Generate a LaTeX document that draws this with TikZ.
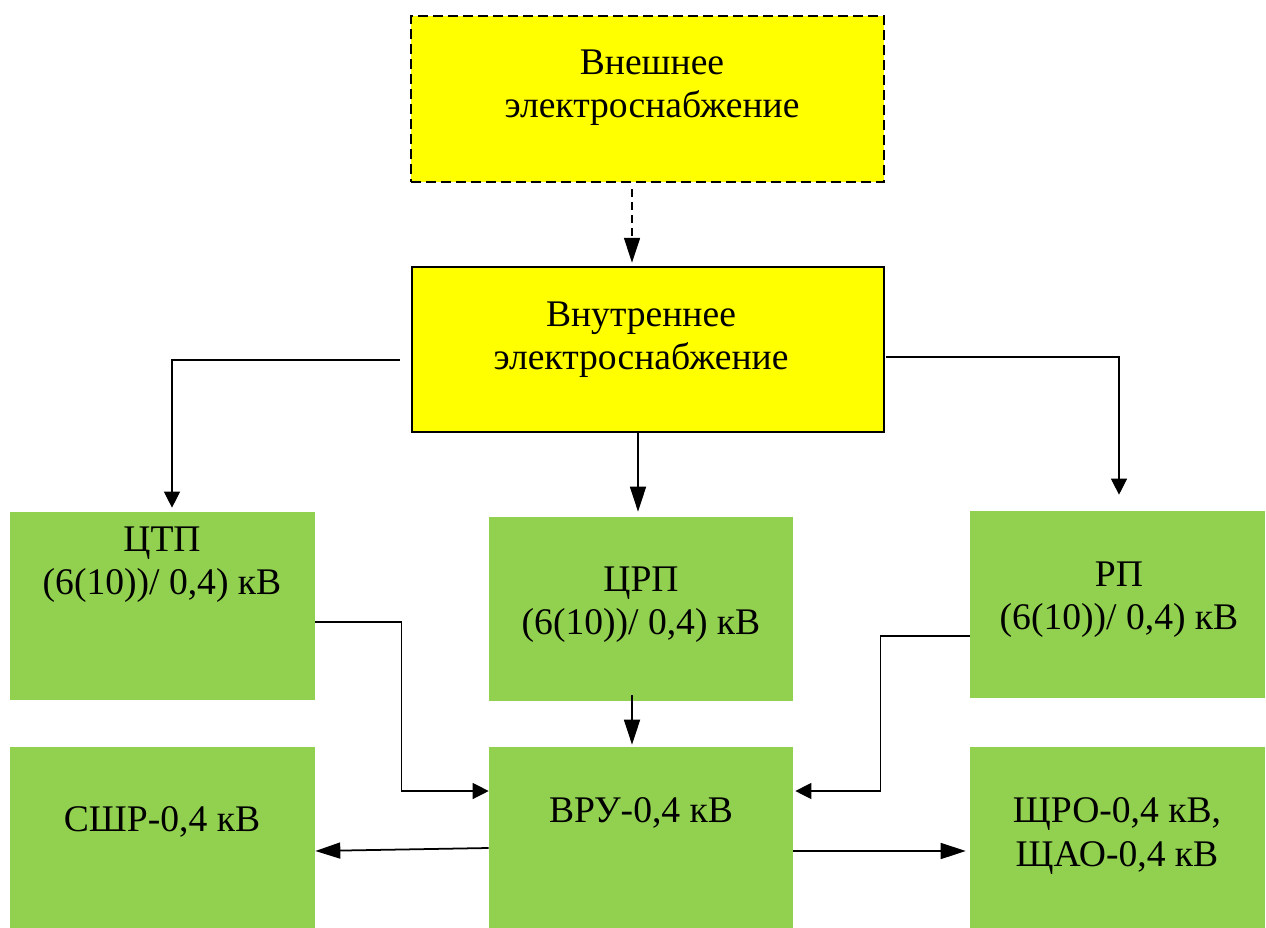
\documentclass[tikz,border=0pt]{standalone}
\usepackage{fontspec}
\setmainfont{Liberation Serif}
\usetikzlibrary{arrows.meta}

\definecolor{boxyellow}{RGB}{255,255,0}
\definecolor{boxgreen}{RGB}{146,208,80}

\tikzset{
  extbox/.style={draw=black, fill=boxyellow, dash pattern=on 0.2cm off 0.1cm, line width=1.2pt,
    minimum width=9.46cm, minimum height=3.32cm, inner sep=0pt},
  intbox/.style={draw=black, fill=boxyellow, line width=1.4pt,
    minimum width=9.44cm, minimum height=3.3cm, inner sep=0pt},
  greenbox/.style={fill=boxgreen, inner sep=0pt},
  txt/.style={align=center, font=\fontsize{21.4}{24.5}\selectfont, inner sep=0pt},
  bigarr/.style={line width=1pt, -{Triangle[length=0.5cm, width=0.32cm]}},
  elbow/.style={line width=0.7pt, -{Triangle[length=0.32cm, width=0.32cm]}}
}

\begin{document}
\begin{tikzpicture}[x=0.02cm, y=-0.02cm]
  % page size of the reference (1266 x 928)
  \useasboundingbox (0,0) rectangle (1266,928);

  % supply boxes
  \node[extbox] (ext) at (647.5,99) {};
  \node[txt] at (652,88) {Внешнее\\электроснабжение};
  \node[intbox] (int) at (648,349.5) {};
  \node[txt] at (641,340) {Внутреннее\\электроснабжение};

  % substations
  \node[greenbox, minimum width=6.1cm, minimum height=3.76cm] (ctp) at (162.5,606) {};
  \node[txt] at (162,565) {ЦТП\\(6(10))/ 0,4) кВ};
  \node[greenbox, minimum width=6.08cm, minimum height=3.68cm] (crp) at (641,609) {};
  \node[txt] at (641,605) {ЦРП\\(6(10))/ 0,4) кВ};
  \node[greenbox, minimum width=5.9cm, minimum height=3.74cm] (rp) at (1117.5,604.5) {};
  \node[txt] at (1119,600) {РП\\(6(10))/ 0,4) кВ};

  % 0,4 kV switchboards
  \node[greenbox, minimum width=6.1cm, minimum height=3.62cm] (sshr) at (162.5,837.5) {};
  \node[txt] at (162,822) {СШР-0,4 кВ};
  \node[greenbox, minimum width=6.08cm, minimum height=3.62cm] (vru) at (641,837.5) {};
  \node[txt] at (641,813) {ВРУ-0,4 кВ};
  \node[greenbox, minimum width=5.9cm, minimum height=3.62cm] (shro) at (1117.5,837.5) {};
  \node[txt] at (1117,836) {ЩРО-0,4 кВ,\\ЩАО-0,4 кВ};

  % connectors
  \draw[bigarr, dash pattern=on 0.16cm off 0.1cm, line width=0.9pt, shorten <=0.12cm, shorten >=0.06cm]
    ([xshift=-0.31cm]ext.south) -- ([xshift=-0.31cm]ext.south |- int.north);
  \draw[elbow] ([shift={(-0.22cm,-0.21cm)}]int.west) -| ([shift={(0.19cm,0.08cm)}]ctp.north);
  \draw[elbow] ([shift={(0.02cm,-0.15cm)}]int.east) -| ([shift={(0.03cm,0.32cm)}]rp.north);
  \draw[bigarr, shorten >=0.1cm] ([xshift=-0.2cm]int.south) -- ([xshift=-0.2cm]int.south |- crp.north);

  \draw[elbow] ([yshift=-0.32cm]ctp.east) -- ++(1.72cm,0) |- ([yshift=0.93cm]vru.west);
  \draw[elbow] ([yshift=-0.63cm]rp.west) -- ++(-1.78cm,0) |- ([shift={(0.04cm,0.93cm)}]vru.east);
  \draw[bigarr] ([shift={(-0.18cm,0.12cm)}]crp.south) -- ([shift={(-0.18cm,0.04cm)}]vru.north);

  \draw[bigarr] ([yshift=-0.21cm]vru.west) -- ([yshift=-0.27cm]sshr.east);
  \draw[bigarr] ([yshift=-0.27cm]vru.east) -- ([shift={(-0.08cm,-0.27cm)}]shro.west);
\end{tikzpicture}
\end{document}
